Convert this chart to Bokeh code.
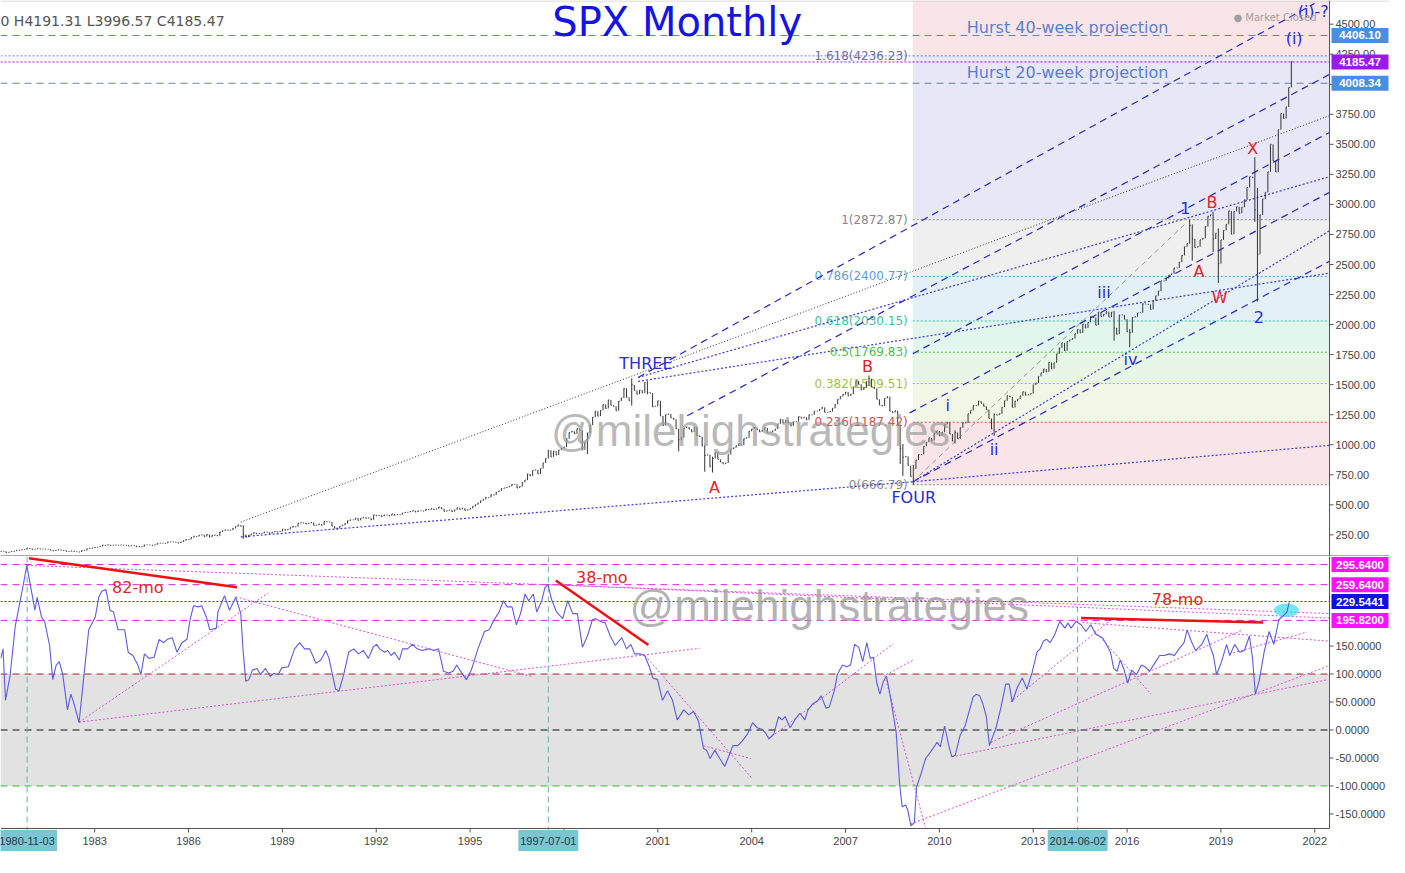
from bokeh.plotting import figure
from bokeh.models import Range1d, Label
from bokeh.layouts import column
from bokeh.embed import file_html
from bokeh.resources import INLINE
from bokeh.core.properties import value

# ---------------- DATA ----------------
open_first = 107.94
close_1980s = [
    114.16, 113.66, 102.09, 106.29, 111.24, 114.24, 121.67, 122.38, 125.46, 127.47, 140.52, 135.76,
    129.55, 131.27, 136.00, 132.81, 132.59, 131.21, 130.92, 122.79, 116.18, 121.89, 126.35, 122.55,
    120.40, 113.11, 111.96, 116.44, 111.88, 109.61, 107.09, 119.51, 120.42, 133.71, 138.54, 140.64,
    145.30, 148.06, 152.96, 164.42, 162.39, 168.11, 162.56, 164.40, 166.07, 163.55, 166.40, 164.93,
    163.41, 157.06, 159.18, 160.05, 150.55, 153.18, 150.66, 166.68, 166.10, 166.09, 163.58, 167.24,
    179.63, 181.18, 180.66, 179.83, 189.55, 191.85, 190.92, 188.63, 182.08, 189.82, 202.17, 211.28,
    211.78, 226.92, 238.90, 235.52, 247.35, 250.84, 236.12, 252.93, 231.32, 243.98, 249.22, 242.17,
    274.08, 284.20, 291.70, 288.36, 290.10, 304.00, 318.66, 329.80, 321.83, 251.79, 230.30, 247.08,
    257.07, 267.82, 258.89, 261.33, 262.16, 273.50, 272.02, 261.52, 271.91, 278.97, 273.70, 277.72,
    297.47, 288.86, 294.87, 309.64, 320.52, 317.98, 346.08, 351.45, 349.15, 340.36, 345.99, 353.40]
close_1990s = [
    329.08, 331.89, 339.94, 330.80, 361.23, 358.02, 356.15, 322.56, 306.05, 304.00, 322.22, 330.22,
    343.93, 367.07, 375.22, 375.34, 389.83, 371.16, 387.81, 395.43, 387.86, 392.46, 375.22, 417.09,
    408.79, 412.70, 403.69, 414.95, 415.35, 408.14, 424.21, 414.03, 417.80, 418.68, 431.35, 435.71,
    438.78, 443.38, 451.67, 440.19, 450.19, 450.53, 448.13, 463.56, 458.93, 467.83, 461.79, 466.45,
    481.61, 467.14, 445.77, 450.91, 456.50, 444.27, 458.26, 475.49, 462.69, 472.35, 453.69, 459.27,
    470.42, 487.39, 500.71, 514.71, 533.40, 544.75, 562.06, 561.88, 584.41, 581.50, 605.37, 615.93,
    636.02, 640.43, 645.50, 654.17, 669.12, 670.63, 639.95, 651.99, 687.31, 705.27, 757.02, 740.74,
    786.16, 790.82, 757.12, 801.34, 848.28, 885.14, 954.31, 899.47, 947.28, 914.62, 955.40, 970.43,
    980.28, 1049.34, 1101.75, 1111.75, 1090.82, 1133.84, 1120.67, 957.28, 1017.01, 1098.67, 1163.63, 1229.23,
    1279.64, 1238.33, 1286.37, 1335.18, 1301.84, 1372.71, 1328.72, 1320.41, 1282.71, 1362.93, 1388.91, 1469.25]
close_2000s = [
    1394.46, 1366.42, 1498.58, 1452.43, 1420.60, 1454.60, 1430.83, 1517.68, 1436.51, 1429.40, 1314.95, 1320.28,
    1366.01, 1239.94, 1160.33, 1249.46, 1255.82, 1224.42, 1211.23, 1133.58, 1040.94, 1059.78, 1139.45, 1148.08,
    1130.20, 1106.73, 1147.39, 1076.92, 1067.14, 989.82, 911.62, 916.07, 815.28, 885.76, 936.31, 879.82,
    855.70, 841.15, 848.18, 916.92, 963.59, 974.50, 990.31, 1008.01, 995.97, 1050.71, 1058.20, 1111.92,
    1131.13, 1144.94, 1126.21, 1107.30, 1120.68, 1140.84, 1101.72, 1104.24, 1114.58, 1130.20, 1173.82, 1211.92,
    1181.27, 1203.60, 1180.59, 1156.85, 1191.50, 1191.33, 1234.18, 1220.33, 1228.81, 1207.01, 1249.48, 1248.29,
    1280.08, 1280.66, 1294.83, 1310.61, 1270.09, 1270.20, 1276.66, 1303.82, 1335.85, 1377.94, 1400.63, 1418.30,
    1438.24, 1406.82, 1420.86, 1482.37, 1530.62, 1503.35, 1455.27, 1473.99, 1526.75, 1549.38, 1481.14, 1468.36,
    1378.55, 1330.63, 1322.70, 1385.59, 1400.38, 1280.00, 1267.38, 1282.83, 1166.36, 968.75, 896.24, 903.25,
    825.88, 735.09, 797.87, 872.81, 919.14, 919.32, 987.48, 1020.62, 1057.08, 1036.19, 1095.63, 1115.10]
close_2010s = [
    1073.87, 1104.49, 1169.43, 1186.69, 1089.41, 1030.71, 1101.60, 1049.33, 1141.20, 1183.26, 1180.55, 1257.64,
    1286.12, 1327.22, 1325.83, 1363.61, 1345.20, 1320.64, 1292.28, 1218.89, 1131.42, 1253.30, 1246.96, 1257.60,
    1312.41, 1365.68, 1408.47, 1397.91, 1310.33, 1362.16, 1379.32, 1406.58, 1440.67, 1412.16, 1416.18, 1426.19,
    1498.11, 1514.68, 1569.19, 1597.57, 1630.74, 1606.28, 1685.73, 1632.97, 1681.55, 1756.54, 1805.81, 1848.36,
    1782.59, 1859.45, 1872.34, 1883.95, 1923.57, 1960.23, 1930.67, 2003.37, 1972.29, 2018.05, 2067.56, 2058.90,
    1994.99, 2104.50, 2067.89, 2085.51, 2107.39, 2063.11, 2103.84, 1972.18, 1920.03, 2079.36, 2080.41, 2043.94,
    1940.24, 1932.23, 2059.74, 2065.30, 2096.95, 2098.86, 2173.60, 2170.95, 2168.27, 2126.15, 2198.81, 2238.83,
    2278.87, 2363.64, 2362.72, 2384.20, 2411.80, 2423.41, 2470.30, 2471.65, 2519.36, 2575.26, 2647.58, 2673.61,
    2823.81, 2713.83, 2640.87, 2648.05, 2705.27, 2718.37, 2816.29, 2901.52, 2913.98, 2711.74, 2760.17, 2506.85,
    2704.10, 2784.49, 2834.40, 2945.83, 2752.06, 2941.76, 2980.38, 2926.46, 2976.74, 3037.56, 3140.98, 3230.78]
close_2020s = [3225.52, 2954.22, 2584.59, 2912.43, 3044.31, 3100.29, 3271.12, 3500.31, 3363.00, 3269.96,
               3621.63, 3756.07, 3714.24, 3811.15, 3972.89, 4185.47]

wick_month = ["1987-08", "1987-10", "1990-10", "1998-10", "2000-03", "2000-09", "2001-09", "2002-07",
              "2002-10", "2007-10", "2008-10", "2008-11", "2009-03", "2010-07", "2011-10", "2015-08",
              "2016-02", "2018-01", "2018-02", "2018-10", "2018-12", "2020-02", "2020-03", "2021-04"]
wick_high = [336.77, 328.94, 311.0, 1000.0, 1552.87, 1530.09, 1110.0, 1000.0, 900.0, 1576.09, 1165.0, 1007.0,
             832.0, 1120.0, 1260.0, 2113.0, 1962.0, 2872.87, 2835.0, 2939.86, 2800.0, 3393.52, 3136.0, 4191.31]
wick_low = [320.0, 216.46, 294.51, 923.32, 1325.0, 1420.0, 944.75, 775.68, 768.63, 1489.0, 839.80, 741.02,
            666.79, 1010.91, 1074.77, 1867.01, 1810.10, 2682.0, 2532.69, 2603.54, 2346.58, 2855.0, 2191.86, 3996.57]

fib_ratio = ["0", "0.236", "0.382", "0.5", "0.618", "0.786", "1", "1.618"]
fib_price = [666.79, 1187.42, 1509.51, 1769.83, 2030.15, 2400.77, 2872.87, 4236.23]
fib_fill = ["#f9e5e7", "#f1f6e6", "#e8f6e6", "#e3f6ee", "#e3f0f8", "#efefef", "#e7e7f7", "#f9e5e7"]
fib_text_color = ["#888888", "#d05050", "#a6c23c", "#4cbf4c", "#3fbfa3", "#5aa2d6", "#888888", "#6b6ba8"]

wave_text = ["THREE", "B", "A", "FOUR", "i", "ii", "iii", "iv", "1", "A", "B", "W", "X", "2", "(i)", "(i)-?"]
wave_x = [2000.62, 2007.70, 2002.81, 2009.18, 2010.27, 2011.75, 2015.26, 2016.11, 2017.86, 2018.30,
          2018.71, 2018.96, 2020.02, 2020.21, 2021.34, 2021.95]
wave_y = [1675, 1650, 643, 561, 1323, 962, 2264, 1708, 2969, 2445, 3018, 2224, 3468, 2060, 4377, 4607]
wave_color = ["#2b2bd9", "#e8202a", "#e8202a", "#2b2bd9", "#2b2bd9", "#2b2bd9", "#2b2bd9", "#2b2bd9",
              "#2b2bd9", "#e8202a", "#e8202a", "#e8202a", "#e8202a", "#2b2bd9", "#2b2bd9", "#2b2bd9"]

key_levels = [4406.10, 4185.47, 4008.34]
key_level_text = ["4406.10", "4185.47", "4008.34"]

# channel lines (year, price)
dash_x0 = [2000.37, 2001.94, 2009.15, 2009.05, 2009.15]
dash_y0 = [1560, 1241, 1757, 1265, 692]
dash_x1 = [2021.99, 2022.47, 2022.47, 2022.47, 2022.47]
dash_y1 = [4672, 4082, 3599, 3100, 2527]
dot_x0 = [2000.37, 2000.37, 2009.15, 2009.15, 1987.67]
dot_y0 = [1560, 1527, 692, 692, 234]
dot_x1 = [2022.47, 2022.47, 2022.47, 2022.47, 2009.15]
dot_y1 = [3231, 2428, 2780, 995, 692]
black_dot = [1987.67, 356, 2022.47, 3739]
gray_dash = [2009.15, 692, 2017.92, 2854]

osc_readings = [
    (1980.00, 128), (1980.07, 145), (1980.15, 53), (1980.30, 99), (1980.46, 185), (1980.62, 231),
    (1980.72, 260), (1980.83, 294), (1980.98, 248), (1981.09, 214), (1981.16, 237), (1981.30, 202),
    (1981.40, 194), (1981.56, 151), (1981.66, 90), (1981.77, 116), (1981.87, 122), (1981.98, 99),
    (1982.13, 36), (1982.24, 64), (1982.34, 47), (1982.50, 13), (1982.66, 99), (1982.81, 179),
    (1983.02, 202), (1983.13, 237), (1983.23, 248), (1983.36, 251), (1983.49, 214), (1983.60, 211),
    (1983.75, 179), (1983.96, 179), (1984.07, 139), (1984.22, 133), (1984.38, 116), (1984.48, 99),
    (1984.59, 136), (1984.74, 128), (1984.90, 130), (1985.06, 162), (1985.21, 156), (1985.32, 162),
    (1985.48, 165), (1985.63, 139), (1985.79, 156), (1985.95, 162), (1986.05, 197), (1986.16, 222),
    (1986.31, 220), (1986.42, 222), (1986.57, 202), (1986.68, 179), (1986.89, 182), (1986.94, 211),
    (1987.15, 240), (1987.31, 214), (1987.51, 237), (1987.67, 208), (1987.74, 145), (1987.83, 87),
    (1987.93, 90), (1988.04, 107), (1988.19, 110), (1988.30, 99), (1988.46, 110), (1988.61, 96),
    (1988.72, 101), (1988.87, 99), (1988.98, 111), (1989.19, 113), (1989.39, 145), (1989.55, 156),
    (1989.71, 145), (1989.87, 145), (1989.97, 133), (1990.07, 119), (1990.23, 125), (1990.39, 142),
    (1990.49, 128), (1990.60, 99), (1990.70, 73), (1990.81, 70), (1990.96, 99), (1991.12, 139),
    (1991.28, 145), (1991.43, 136), (1991.59, 142), (1991.75, 128), (1991.90, 148), (1992.01, 153),
    (1992.11, 145), (1992.27, 139), (1992.37, 142), (1992.48, 133), (1992.58, 139), (1992.74, 125),
    (1992.84, 145), (1993.00, 145), (1993.16, 153), (1993.31, 145), (1993.47, 142), (1993.68, 145),
    (1993.84, 142), (1993.99, 145), (1994.15, 105), (1994.31, 102), (1994.46, 105), (1994.57, 116),
    (1994.73, 102), (1994.88, 90), (1995.04, 107), (1995.25, 145), (1995.46, 176), (1995.61, 179),
    (1995.77, 197), (1995.93, 211), (1996.06, 231), (1996.19, 220), (1996.34, 220), (1996.48, 188),
    (1996.61, 208), (1996.76, 243), (1996.87, 231), (1997.02, 243), (1997.13, 211), (1997.29, 231),
    (1997.39, 254), (1997.49, 260), (1997.60, 234), (1997.76, 211), (1997.96, 199), (1998.12, 231),
    (1998.28, 208), (1998.43, 208), (1998.59, 148), (1998.75, 168), (1998.91, 197), (1999.01, 199),
    (1999.17, 194), (1999.32, 191), (1999.48, 168), (1999.64, 151), (1999.85, 165), (2000.00, 145),
    (2000.14, 153), (2000.26, 136), (2000.42, 136), (2000.58, 133), (2000.73, 113), (2000.84, 93),
    (2000.99, 90), (2001.15, 53), (2001.31, 70), (2001.47, 53), (2001.62, 18), (2001.83, 36),
    (2001.99, 27), (2002.14, 33), (2002.30, 16), (2002.46, -33), (2002.56, -36), (2002.67, -51),
    (2002.82, -36), (2002.98, -51), (2003.14, -65), (2003.24, -51), (2003.40, -28), (2003.56, -28),
    (2003.71, -19), (2003.87, -7), (2004.03, 13), (2004.18, 4), (2004.34, 1), (2004.44, -5),
    (2004.55, -16), (2004.71, -7), (2004.86, 24), (2004.97, 18), (2005.07, 24), (2005.23, 4),
    (2005.38, 18), (2005.54, 30), (2005.70, 18), (2005.80, 36), (2005.96, 47), (2006.12, 53),
    (2006.22, 61), (2006.38, 39), (2006.48, 41), (2006.64, 70), (2006.74, 99), (2006.90, 116),
    (2007.04, 113), (2007.16, 116), (2007.29, 153), (2007.42, 148), (2007.55, 122), (2007.68, 156),
    (2007.79, 128), (2007.89, 130), (2008.00, 84), (2008.10, 64), (2008.21, 87), (2008.31, 96),
    (2008.42, 64), (2008.52, 30), (2008.62, -5), (2008.73, -97), (2008.81, -137), (2008.92, -134),
    (2008.99, -143), (2009.09, -171), (2009.20, -166), (2009.27, -102), (2009.41, -79), (2009.56, -51),
    (2009.72, -39), (2009.93, -22), (2010.03, -30), (2010.17, 7), (2010.30, -28), (2010.40, -48),
    (2010.51, -45), (2010.66, -10), (2010.82, 7), (2010.92, 27), (2011.08, 59), (2011.18, 64),
    (2011.29, 61), (2011.39, 47), (2011.50, 24), (2011.60, -28), (2011.81, 4), (2011.97, 41),
    (2012.12, 82), (2012.23, 82), (2012.33, 50), (2012.49, 76), (2012.65, 93), (2012.80, 73),
    (2012.96, 102), (2013.12, 139), (2013.22, 145), (2013.33, 159), (2013.43, 162), (2013.54, 156),
    (2013.69, 171), (2013.85, 194), (2014.01, 182), (2014.11, 191), (2014.21, 182), (2014.37, 194),
    (2014.53, 188), (2014.68, 176), (2014.84, 188), (2015.00, 171), (2015.21, 165), (2015.31, 156),
    (2015.47, 139), (2015.57, 110), (2015.68, 105), (2015.78, 125), (2015.89, 110), (2016.02, 84),
    (2016.15, 107), (2016.30, 99), (2016.46, 116), (2016.57, 113), (2016.72, 105), (2016.88, 119),
    (2017.04, 133), (2017.19, 133), (2017.35, 136), (2017.51, 133), (2017.66, 145), (2017.82, 156),
    (2017.92, 179), (2018.05, 159), (2018.19, 142), (2018.39, 153), (2018.55, 171), (2018.66, 148),
    (2018.76, 133), (2018.86, 99), (2019.02, 122), (2019.18, 153), (2019.28, 133), (2019.44, 153),
    (2019.60, 139), (2019.75, 142), (2019.91, 168), (2020.01, 128), (2020.10, 64), (2020.22, 87),
    (2020.38, 139), (2020.54, 176), (2020.69, 153), (2020.85, 197), (2021.01, 205), (2021.11, 211),
    (2021.18, 228)]

osc_levels = [295.64, 259.64, 229.5441, 195.82]
osc_level_text = ["295.6400", "259.6400", "229.5441", "195.8200"]
osc_level_bg = ["#ff10ff", "#ff10ff", "#1010e0", "#ff10ff"]
pink_x0 = [1980.84, 1997.50, 1982.50, 1982.50, 1987.51, 2000.59, 2002.46, 2004.54, 2008.30, 2008.26,
           2009.08, 2010.40, 2012.28, 2011.65, 2014.57, 2014.79, 2019.27]
pink_y0 = [294, 260, 14, 14, 238, 133, -28, -16, 99, 97, -168, -48, 50, -22, 192, 188, 136]
pink_x1 = [2022.47, 2022.47, 1988.55, 2002.34, 1997.01, 2004.04, 2003.97, 2008.52, 2009.20, 2009.55,
           2022.41, 2022.41, 2015.42, 2019.70, 2022.41, 2016.77, 2021.75]
pink_y1 = [208, 200, 245, 146, 95, -88, -51, 154, 126, -174, 114, 90, 194, 179, 159, 64, 175]
red_x0 = [1980.90, 1997.74, 2014.53]
red_y0 = [307, 267, 200]
red_x1 = [1987.55, 2000.70, 2020.35]
red_y1 = [255, 152, 192]
red_text = ["82-mo", "38-mo", "78-mo"]
red_text_x = [1984.38, 1999.21, 2017.61]
red_text_y = [255, 272, 234]

marker_dates = ["1980-11-03", "1997-07-01", "2014-06-02"]
marker_x = [1980.84, 1997.50, 2014.42]
year_ticks = [1983, 1986, 1989, 1992, 1995, 1998, 2001, 2004, 2007, 2010, 2013, 2016, 2019, 2022]
price_ticks = [250, 500, 750, 1000, 1250, 1500, 1750, 2000, 2250, 2500, 2750, 3000, 3250, 3500, 3750,
               4000, 4250, 4500]
osc_ticks = [-150, -100, -50, 0, 50, 100, 150]

# ---------------- GEOMETRY / STYLE ----------------
X0, X1 = 1979.99, 2022.47
W = 1389            # full width of both frames
AXW = 60            # right scale strip (px)
PPY = (W - AXW) / (X1 - X0)     # px per year
XE = X1 + AXW / PPY
H1 = 556
Y1B, Y1T = 70, 4697
YS1 = (Y1T - Y1B) / H1
H2_PLOT, H2_AX = 272, 24
Y2B, Y2T = -176, 310
YS2 = (Y2T - Y2B) / H2_PLOT
Y2E = Y2B - H2_AX * YS2
xr = Range1d(X0, XE)
AX_FONT = "Liberation Sans"
TXT_FONT = "DejaVu Sans"
AXIS_C = "#555555"
LBL_C = "#444444"

close_all = close_1980s + close_1990s + close_2000s + close_2010s + close_2020s
t = [1980 + i / 12 for i in range(len(close_all))]
opens = [open_first] + close_all[:-1]
hi = [max(o, c) for o, c in zip(opens, close_all)]
lo = [min(o, c) for o, c in zip(opens, close_all)]
for m, h, l in zip(wick_month, wick_high, wick_low):
    yy, mm = m.split("-")
    k = (int(yy) - 1980) * 12 + int(mm) - 1
    hi[k] = max(hi[k], h)
    lo[k] = min(lo[k], l)


def new_fig(h, y0, y1):
    f = figure(frame_width=W, frame_height=h, x_range=xr, y_range=Range1d(y0, y1),
               x_axis_location=None, y_axis_location=None, output_backend="svg",
               toolbar_location=None, min_border_left=0, min_border_right=0, min_border_top=0,
               min_border_bottom=0, background_fill_color="white", outline_line_color=None)
    f.grid.visible = False
    return f


def right_scale(f, ticks, labels, ylo, yhi):
    f.segment(x0=[X1], y0=[ylo], x1=[X1], y1=[yhi], line_color=AXIS_C, line_width=1)
    f.segment(x0=[X1] * len(ticks), y0=ticks, x1=[X1 + 4 / PPY] * len(ticks), y1=ticks,
              line_color=AXIS_C, line_width=1)
    f.text(x=[X1 + 6 / PPY] * len(ticks), y=ticks, text=labels, text_align="left", text_baseline="middle",
           text_color=LBL_C, text_font_size="11px", text_font=value(AX_FONT))


def value_boxes(f, levels, texts, colors, ys):
    f.rect(x=[X1 + 30.5 / PPY] * len(levels), y=levels, width=57 / PPY, height=15 * ys,
           fill_color=colors, line_color=None)
    f.text(x=[X1 + 30.5 / PPY] * len(levels), y=levels, text=texts, text_align="center", text_baseline="middle",
           text_color="white", text_font_size="11.5px", text_font_style="bold", text_font=value(AX_FONT))


# ---------------- upper panel ----------------
p1 = new_fig(H1, Y1B, Y1T)
tops = fib_price[1:] + [Y1T]
p1.quad(left=2009.15, right=X1, bottom=fib_price, top=tops, fill_color=fib_fill, line_color=None)
p1.segment(x0=[2009.15] * len(fib_price), y0=fib_price, x1=[X1] * len(fib_price), y1=fib_price,
           line_color=fib_text_color, line_dash="2 2", line_width=1)
p1.text(x=[2008.99] * len(fib_price), y=fib_price,
        text=[f"{r}({pr:.2f})" for r, pr in zip(fib_ratio, fib_price)],
        text_align="right", text_baseline="middle", text_color=fib_text_color,
        text_font_size="12px", text_font=value(TXT_FONT))
p1.segment(x0=[X0], y0=[4236.23], x1=[2009.15], y1=[4236.23], line_color="#8080c0", line_dash="2 2")

p1.segment(x0=[X0, X0], y0=[4406.10, 4008.34], x1=[X1, X1], y1=[4406.10, 4008.34],
           line_color="#5b82b8", line_dash="7 5", line_width=1)
p1.segment(x0=[X0], y0=[4185.47], x1=[X1], y1=[4185.47], line_color="#8a1ad0", line_dash="2 2", line_width=1)

p1.segment(x0=dash_x0, y0=dash_y0, x1=dash_x1, y1=dash_y1, line_color="#2727c8", line_dash="7 5", line_width=1.2)
p1.segment(x0=dot_x0, y0=dot_y0, x1=dot_x1, y1=dot_y1, line_color="#3c3cd8", line_dash="2 2", line_width=1.2)
p1.segment(x0=[black_dot[0]], y0=[black_dot[1]], x1=[black_dot[2]], y1=[black_dot[3]],
           line_color="#333333", line_dash="1 2", line_width=1)
p1.segment(x0=[gray_dash[0]], y0=[gray_dash[1]], x1=[gray_dash[2]], y1=[gray_dash[3]],
           line_color="#999999", line_dash="5 4", line_width=1)

p1.segment(x0=t, y0=lo, x1=t, y1=hi, line_color="#333333", line_width=1)
p1.segment(x0=t, y0=close_all, x1=[v + 0.03 for v in t], y1=close_all, line_color="#333333", line_width=1)

p1.add_layout(Label(x=2001.62, y=4515, text="SPX Monthly", text_align="center", text_baseline="alphabetic",
                    text_color="#1414e6", text_font_size="40px", text_font=TXT_FONT))
p1.add_layout(Label(x=X0, y=4530, text="0  H4191.31  L3996.57  C4185.47", text_baseline="middle",
                    text_color="#555555", text_font_size="14px", text_font=TXT_FONT))
p1.add_layout(Label(x=2014.10, y=4476, text="Hurst 40-week projection", text_align="center",
                    text_baseline="middle", text_color="#5a7fcf", text_font_size="16px", text_font=TXT_FONT))
p1.add_layout(Label(x=2014.10, y=4099, text="Hurst 20-week projection", text_align="center",
                    text_baseline="middle", text_color="#5a7fcf", text_font_size="16px", text_font=TXT_FONT))
p1.add_layout(Label(x=2019.40, y=4557, text="\u25cf Market Closed", text_baseline="middle",
                    text_color="#a0a0a0", text_font_size="10px", text_font=TXT_FONT))
p1.add_layout(Label(x=2003.97, y=1118, text="@milehighstrategies", text_align="center", text_baseline="middle",
                    text_color="#9a9a9a", text_alpha=0.7, text_font_size="44px", text_font=AX_FONT))
p1.text(x=wave_x, y=wave_y, text=wave_text, text_color=wave_color, text_align="center",
        text_baseline="middle", text_font_size="16px", text_font=value(TXT_FONT))

# frame lines and right price scale
p1.segment(x0=[X0], y0=[Y1T - YS1 * 0.5], x1=[XE], y1=[Y1T - YS1 * 0.5], line_color="#d0d0d0", line_width=1)
p1.segment(x0=[X0], y0=[Y1B + YS1 * 0.5], x1=[XE], y1=[Y1B + YS1 * 0.5], line_color=AXIS_C, line_width=1)
right_scale(p1, price_ticks, [f"{v:.2f}" for v in price_ticks], Y1B, Y1T)
value_boxes(p1, key_levels, key_level_text, ["#4a8ee0", "#9b18f0", "#4a8ee0"], YS1)

# ---------------- lower panel ----------------
p2 = new_fig(H2_PLOT + H2_AX, Y2E, Y2T)
p2.quad(left=X0, right=X1, bottom=-100, top=100, fill_color="#e2e2e2", line_color=None)
p2.segment(x0=[X0] * 3, y0=[100, 0, -100], x1=[X1] * 3, y1=[100, 0, -100],
           line_color=["#b0202a", "#111111", "#2ec02e"], line_dash="7 5", line_width=1)
p2.segment(x0=[X0] * 3, y0=[295.64, 259.64, 195.82], x1=[X1] * 3, y1=[295.64, 259.64, 195.82],
           line_color="#e020e0", line_dash="7 5", line_width=1)
p2.segment(x0=[X0], y0=[229.5441], x1=[X1], y1=[229.5441], line_color="#3030c0", line_dash="2 2", line_width=1)
p2.segment(x0=marker_x, y0=[Y2B - 4 * YS2] * 3, x1=marker_x, y1=[Y2T] * 3,
           line_color="#6aaebb", line_dash="6 4", line_width=1)

p2.segment(x0=pink_x0, y0=pink_y0, x1=pink_x1, y1=pink_y1, line_color="#e04ce0", line_dash="2 2", line_width=1)
p2.add_layout(Label(x=2006.48, y=223, text="@milehighstrategies", text_align="center", text_baseline="middle",
                    text_color="#9a9a9a", text_alpha=0.75, text_font_size="44px", text_font=AX_FONT))
ox = [a for a, b in osc_readings]
oy = [b for a, b in osc_readings]
p2.ellipse(x=2021.09, y=214, width=0.8, height=24, fill_color="#40e0f0", fill_alpha=0.75, line_color=None)
p2.line(ox, oy, line_color="#5c5ce0", line_width=1.1)
p2.segment(x0=red_x0, y0=red_y0, x1=red_x1, y1=red_y1, line_color="#f01010", line_width=2.5)
p2.text(x=red_text_x, y=red_text_y, text=red_text, text_color="#e02828", text_align="center",
        text_baseline="middle", text_font_size="16px", text_font=value(TXT_FONT))

# frame lines, scales
p2.segment(x0=[X0], y0=[Y2B], x1=[X1], y1=[Y2B], line_color=AXIS_C, line_width=1)
right_scale(p2, osc_ticks, [f"{v:.4f}" for v in osc_ticks], Y2B, Y2T)
value_boxes(p2, osc_levels, osc_level_text, osc_level_bg, YS2)

# time scale
p2.segment(x0=year_ticks, y0=[Y2B] * len(year_ticks), x1=year_ticks, y1=[Y2B - 4 * YS2] * len(year_ticks),
           line_color=AXIS_C, line_width=1)
p2.text(x=year_ticks, y=[Y2B - 12 * YS2] * len(year_ticks), text=[str(y) for y in year_ticks],
        text_align="center", text_baseline="middle", text_color=LBL_C, text_font_size="11px",
        text_font=value(AX_FONT))
p2.rect(x=marker_x, y=[Y2B - 12 * YS2] * 3, width=60 / PPY, height=21 * YS2, fill_color="#7cc6d4",
        line_color=None)
p2.text(x=marker_x, y=[Y2B - 12 * YS2] * 3, text=marker_dates, text_align="center", text_baseline="middle",
        text_color="#1e3c44", text_font_size="11px", text_font=value(AX_FONT))

layout = column(p1, p2, spacing=0)
open("out.html", "w").write(file_html(layout, INLINE))
